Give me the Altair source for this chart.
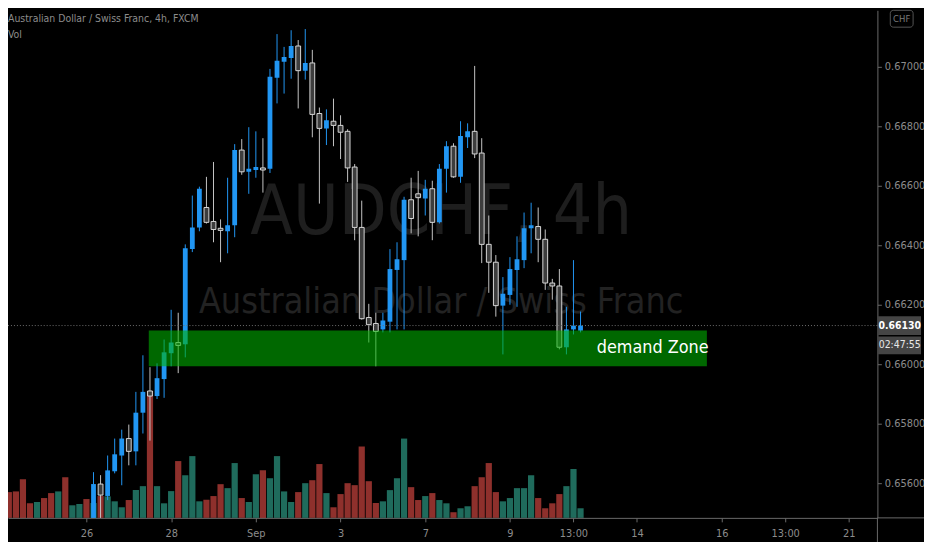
import altair as alt
import pandas as pd

FONT = "DejaVu Sans Condensed, DejaVu Sans, sans-serif"

# ---------------- data ----------------
first_index = 13  # first candle whose body is inside the visible price range

opens = [0.65417, 0.65597, 0.65557, 0.65640, 0.65693, 0.65750, 0.65707, 0.65837, 0.65910, 0.65893,
         0.65950, 0.66037, 0.66073, 0.66067, 0.66387, 0.66460, 0.66527, 0.66480, 0.66457, 0.66447,
         0.66467, 0.66720, 0.66647, 0.66653, 0.66660, 0.66657, 0.66963, 0.67017, 0.67030, 0.67070,
         0.66987, 0.67013, 0.66843, 0.66793, 0.66817, 0.66803, 0.66783, 0.66663, 0.66460, 0.66157,
         0.66137, 0.66117, 0.66143, 0.66317, 0.66350, 0.66553, 0.66573, 0.66557, 0.66590, 0.66477,
         0.66657, 0.66733, 0.66630, 0.66763, 0.66783, 0.66710, 0.66403, 0.66343, 0.66197, 0.66233,
         0.66317, 0.66350, 0.66457, 0.66463, 0.66420, 0.66273, 0.66263, 0.66057, 0.66117, 0.66113]
highs = [0.65637, 0.65627, 0.65693, 0.65750, 0.65780, 0.65797, 0.65907, 0.66030, 0.65990, 0.66003,
         0.66083, 0.66183, 0.66173, 0.66403, 0.66567, 0.66597, 0.66630, 0.66680, 0.66487, 0.66627,
         0.66740, 0.66757, 0.66797, 0.66783, 0.66760, 0.66993, 0.67110, 0.67067, 0.67123, 0.67090,
         0.67127, 0.67057, 0.66863, 0.66857, 0.66893, 0.66837, 0.66790, 0.66673, 0.66550, 0.66203,
         0.66173, 0.66173, 0.66387, 0.66410, 0.66563, 0.66627, 0.66650, 0.66620, 0.66617, 0.66673,
         0.66750, 0.66743, 0.66817, 0.66810, 0.67003, 0.66760, 0.66500, 0.66367, 0.66293, 0.66360,
         0.66430, 0.66510, 0.66543, 0.66527, 0.66453, 0.66287, 0.66320, 0.66193, 0.66350, 0.66177]
lows = [0.65400, 0.65477, 0.65543, 0.65633, 0.65593, 0.65660, 0.65660, 0.65767, 0.65743, 0.65883,
        0.65887, 0.65993, 0.65970, 0.66023, 0.66377, 0.66447, 0.66473, 0.66410, 0.66343, 0.66373,
        0.66427, 0.66637, 0.66573, 0.66627, 0.66577, 0.66643, 0.66877, 0.66910, 0.66960, 0.66860,
        0.66957, 0.66763, 0.66540, 0.66737, 0.66733, 0.66690, 0.66613, 0.66417, 0.66150, 0.66073,
        0.65993, 0.66107, 0.66107, 0.66117, 0.66117, 0.66440, 0.66430, 0.66500, 0.66417, 0.66473,
        0.66577, 0.66627, 0.66610, 0.66727, 0.66693, 0.66340, 0.66240, 0.66160, 0.66033, 0.66200,
        0.66193, 0.66323, 0.66373, 0.66343, 0.66250, 0.66217, 0.66050, 0.66033, 0.66100, 0.66107]
closes = [0.65597, 0.65560, 0.65643, 0.65697, 0.65750, 0.65707, 0.65837, 0.65907, 0.65893, 0.65953,
          0.66040, 0.66073, 0.66063, 0.66390, 0.66460, 0.66590, 0.66477, 0.66453, 0.66450, 0.66467,
          0.66720, 0.66647, 0.66657, 0.66663, 0.66653, 0.66967, 0.67020, 0.67033, 0.67070, 0.66987,
          0.67013, 0.66840, 0.66793, 0.66820, 0.66803, 0.66780, 0.66660, 0.66460, 0.66153, 0.66133,
          0.66110, 0.66147, 0.66320, 0.66353, 0.66553, 0.66490, 0.66560, 0.66590, 0.66477, 0.66657,
          0.66733, 0.66630, 0.66767, 0.66783, 0.66707, 0.66403, 0.66343, 0.66197, 0.66237, 0.66320,
          0.66353, 0.66457, 0.66467, 0.66420, 0.66273, 0.66263, 0.66057, 0.66117, 0.66130, 0.66130]

volume = [193, 260, 267, 390, 147, 160, 200, 250, 267, 410, 127, 140, 190, 150, 220, 217, 167, 107,
          180, 280, 320, 1280, 320, 147, 270, 573, 430, 623, 167, 183, 220, 340, 300, 553, 200, 160,
          440, 480, 400, 623, 267, 160, 260, 350, 380, 543, 250, 107, 240, 350, 330, 720, 370, 150,
          167, 280, 400, 800, 310, 180, 220, 250, 180, 147, 57, 97, 117, 320, 410, 553, 260, 167,
          200, 300, 300, 430, 200, 97, 147, 240, 320, 493, 97]
early_dirs = ["up", "down", "down", "down", "down", "up", "down", "down", "up", "down", "up", "up", "down"]

xtick_idx = [12, 24, 36, 48, 60, 72, 81, 90, 102, 111, 120]
xtick_lab = ["26", "28", "Sep", "3", "7", "9", "13:00", "14", "16", "13:00", "21"]
price_ticks = [0.656, 0.658, 0.660, 0.662, 0.664, 0.666, 0.668, 0.670]

last_price = 0.66130
countdown = "02:47:55"
zone_low, zone_high = 0.65993, 0.66113
zone_start, zone_end = 20.83, 99.9
zone_label_x = 84.3
zone_label = "demand Zone"

title_text = "Australian Dollar / Swiss Franc, 4h, FXCM"
vol_text = "Vol"
wm_big = "AUDCHF, 4h"
wm_small = "Australian Dollar / Swiss Franc"
currency = "CHF"

# ---------------- styling ----------------
UP = "#2196f3"
DN_FILL = "#3d3d3d"
DN_STROKE = "#d8d8d8"
WICK_DN = "#c4c4c4"
VOL_UP = "#1f6b5c"
VOL_DN = "#8e302c"
ZONE = "#00b400"
AXIS_C = "#6a6a6a"
LABEL_C = "#8c8c8c"

W, H = 877, 512
X_DOMAIN = [0.885, 124.06]
Y_DOMAIN = [0.654833, 0.6719]
VOL_MAX = 5120  # volume overlay: full pane height corresponds to this volume

dirs_candle = ["up" if c > o else "down" for o, c in zip(opens, closes)]
candles = pd.DataFrame({
    "i": list(range(first_index, first_index + len(opens))),
    "open": opens, "high": highs, "low": lows, "close": closes, "dir": dirs_candle,
})
vol_df = pd.DataFrame({
    "i": list(range(len(volume))), "vol": volume, "dir": early_dirs + dirs_candle,
})

xscale = alt.Scale(domain=X_DOMAIN, nice=False, zero=False)
yscale = alt.Scale(domain=Y_DOMAIN, nice=False, zero=False)

label_expr = " : ".join(f"datum.value == {i} ? '{l}'" for i, l in zip(xtick_idx, xtick_lab)) + " : ''"
xaxis = alt.Axis(values=xtick_idx, labelExpr=label_expr, grid=False, domainColor=AXIS_C,
                 tickColor=AXIS_C, tickSize=4, labelColor=LABEL_C, labelFont=FONT,
                 labelFontSize=11, labelPadding=6, title=None, labelFlush=False, zindex=1)
yaxis = alt.Axis(values=price_ticks, format=".5f", orient="right", grid=False, domainColor=AXIS_C,
                 tickColor=AXIS_C, tickSize=4, labelColor=LABEL_C, labelFont=FONT,
                 labelFontSize=11, labelPadding=3, title=None, labelFlush=False, zindex=1)


def X(field):
    return alt.X(field, scale=xscale, axis=xaxis)


def Y(field):
    return alt.Y(field, scale=yscale, axis=yaxis)


# volume overlay (scaled into the bottom of the price pane)
span = Y_DOMAIN[1] - Y_DOMAIN[0]
vol = alt.Chart(vol_df).transform_calculate(
    x0="datum.i - 0.44", x1="datum.i + 0.44",
    base=str(Y_DOMAIN[0]),
    top=f"{Y_DOMAIN[0]} + datum.vol / {VOL_MAX} * {span}",
).mark_rect(clip=True).encode(
    x=X("x0:Q"), x2="x1:Q",
    y=Y("top:Q"), y2="base:Q",
    color=alt.condition("datum.dir == 'up'", alt.value(VOL_UP), alt.value(VOL_DN)),
)

# watermarks and header texts
one = pd.DataFrame({"a": [0]})
wm1 = alt.Chart(one).mark_text(text=wm_big, font=FONT, fontSize=70, color="#1e1e1e",
                               align="center", baseline="middle").encode(
    x=alt.value(437), y=alt.value(205))
wm2 = alt.Chart(one).mark_text(text=wm_small, font=FONT, fontSize=36, color="#222222",
                               align="center", baseline="middle").encode(
    x=alt.value(437), y=alt.value(294))
ttl = alt.Chart(one).mark_text(text=title_text, font=FONT, fontSize=10.5, color=LABEL_C,
                               align="left", baseline="middle").encode(
    x=alt.value(0), y=alt.value(9))
vtx = alt.Chart(one).mark_text(text=vol_text, font=FONT, fontSize=10.5, color=LABEL_C,
                               align="left", baseline="middle").encode(
    x=alt.value(0), y=alt.value(25))

# candles
wicks = alt.Chart(candles).mark_rule(clip=True, strokeWidth=1).encode(
    x=X("i:Q"), y=Y("low:Q"), y2="high:Q",
    color=alt.condition("datum.dir == 'up'", alt.value(UP), alt.value(WICK_DN)),
)
body_base = alt.Chart(candles).transform_calculate(x0="datum.i - 0.34", x1="datum.i + 0.34")
bodies_up = body_base.transform_filter("datum.dir == 'up'").mark_rect(clip=True, color=UP).encode(
    x=X("x0:Q"), x2="x1:Q", y=Y("open:Q"), y2="close:Q")
bodies_dn = body_base.transform_filter("datum.dir == 'down'").mark_rect(
    clip=True, fill=DN_FILL, stroke=DN_STROKE, strokeWidth=1).encode(
    x=X("x0:Q"), x2="x1:Q", y=Y("open:Q"), y2="close:Q")

# demand zone
zone_df = pd.DataFrame({"x0": [zone_start], "x1": [zone_end], "lo": [zone_low], "hi": [zone_high],
                        "lx": [zone_label_x], "ly": [(zone_low + zone_high) / 2], "t": [zone_label]})
zone = alt.Chart(zone_df).mark_rect(color=ZONE, opacity=0.58).encode(
    x=X("x0:Q"), x2="x1:Q", y=Y("lo:Q"), y2="hi:Q")
zone_txt = alt.Chart(zone_df).mark_text(align="left", baseline="middle", font=FONT, fontSize=18,
                                        color="#ffffff").encode(
    x=X("lx:Q"), y=Y("ly:Q"), text="t:N")

# last price line and labels
lp_df = pd.DataFrame({"p": [last_price], "cd": [countdown]})
lp_line = alt.Chart(lp_df).mark_rule(color="#6e6e6e", strokeDash=[1, 2], strokeWidth=1).encode(
    y=Y("p:Q"))
lp_box = alt.Chart(lp_df).mark_rule(color="#454545", strokeWidth=19).encode(
    x=alt.value(878), x2=alt.value(921), y=Y("p:Q"))
cd_box = alt.Chart(lp_df).mark_rule(color="#454545", strokeWidth=18, yOffset=20).encode(
    x=alt.value(878), x2=alt.value(921), y=Y("p:Q"))
lp_txt = alt.Chart(lp_df).mark_text(font=FONT, fontSize=10.5, fontWeight="bold", color="#ffffff",
                                    align="center", baseline="middle").encode(
    x=alt.value(899.5), y=Y("p:Q"), text=alt.Text("p:Q", format=".5f"))
cd_txt = alt.Chart(lp_df).mark_text(font=FONT, fontSize=10.5, color="#e8e8e8", align="center",
                                    baseline="middle", yOffset=20).encode(
    x=alt.value(899.5), y=Y("p:Q"), text="cd:N")

# axis-line extensions and currency badge
ext_v = alt.Chart(one).mark_rule(color=AXIS_C).encode(x=alt.value(877), y=alt.value(512), y2=alt.value(540))
ext_h = alt.Chart(one).mark_rule(color=AXIS_C).encode(x=alt.value(877), x2=alt.value(930), y=alt.value(512))
chf_box = alt.Chart(one).mark_rect(fill="#000000", stroke="#555555", strokeWidth=1, cornerRadius=3).encode(
    x=alt.value(890), x2=alt.value(913), y=alt.value(0), y2=alt.value(17))
chf_txt = alt.Chart(one).mark_text(text=currency, font=FONT, fontSize=9.5, color="#7a7a7a",
                                   align="center", baseline="middle").encode(
    x=alt.value(901.5), y=alt.value(9))

chart = alt.layer(
    wm1, wm2, ttl, vtx, vol, wicks, bodies_up, bodies_dn, zone, zone_txt,
    lp_line, lp_box, cd_box, lp_txt, cd_txt, ext_v, ext_h, chf_box, chf_txt
).properties(
    width=W, height=H,
    autosize=alt.AutoSizeParams(type="none"),
    padding={"left": 0, "top": 0, "right": 47, "bottom": 22},
).configure(background="#000000").configure_view(stroke=None)

chart.save("out.html", embed_options={"renderer": "svg", "actions": False})
